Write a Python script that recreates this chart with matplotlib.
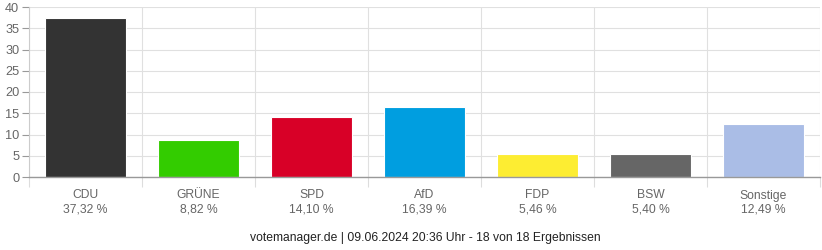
import matplotlib
matplotlib.use("Agg")
import matplotlib.pyplot as plt
import numpy as np

parties = ["CDU", "GRÜNE", "SPD", "AfD", "FDP", "BSW", "Sonstige"]
values = [37.32, 8.82, 14.10, 16.39, 5.46, 5.40, 12.49]
colors = ["#333333", "#33cc00", "#d80027", "#009ee0", "#fded32", "#666666", "#aabde6"]
yticks = [0, 5, 10, 15, 20, 25, 30, 35, 40]
footer = "votemanager.de | 09.06.2024 20:36 Uhr - 18 von 18 Ergebnissen"

plt.rcParams['font.family'] = ['Liberation Sans', 'DejaVu Sans']

fig = plt.figure(figsize=(8.22, 2.5), dpi=100)
ax = fig.add_axes([29/822, 1-177/250, (820-29)/822, 170/250])

x = np.arange(len(parties))
ax.bar(x, values, width=0.72, color=colors, edgecolor="#ffffff", linewidth=0.8, zorder=3)

ax.set_xlim(-0.5, len(parties) - 0.5)
ax.set_ylim(0, 40)
ax.set_yticks(yticks)
ax.set_yticklabels([str(t) for t in yticks], fontsize=9.2, color="#666666")
ax.tick_params(axis='y', length=5, color="#999999", pad=2)

ax.set_xticks(x)
ax.set_xticklabels([f"{p}\n{v:.2f} %".replace(".", ",") for p, v in zip(parties, values)],
                   fontsize=8.7, color="#666666", linespacing=1.25)
ax.tick_params(axis='x', which='major', length=0, pad=9)

bounds = np.arange(len(parties) + 1) - 0.5
ax.set_xticks(bounds, minor=True)
ax.tick_params(axis='x', which='minor', length=7, color="#dddddd", width=0.8)

for b in bounds:
    ax.axvline(b, color="#e0e0e0", linewidth=0.8, zorder=1)
ax.yaxis.grid(True, color="#e0e0e0", linewidth=0.8, zorder=1)
ax.set_axisbelow(True)

for s in ["top", "right"]:
    ax.spines[s].set_visible(False)
ax.spines["left"].set_color("#cccccc")
ax.spines["bottom"].set_color("#999999")
ax.spines["left"].set_linewidth(0.8)
ax.spines["bottom"].set_linewidth(1.0)
ax.spines["bottom"].set_zorder(4)

fig.text(425/822, 1-238/250, footer, ha="center", va="center", fontsize=8.7, color="#222222")

fig.savefig("out.png", dpi=100)
